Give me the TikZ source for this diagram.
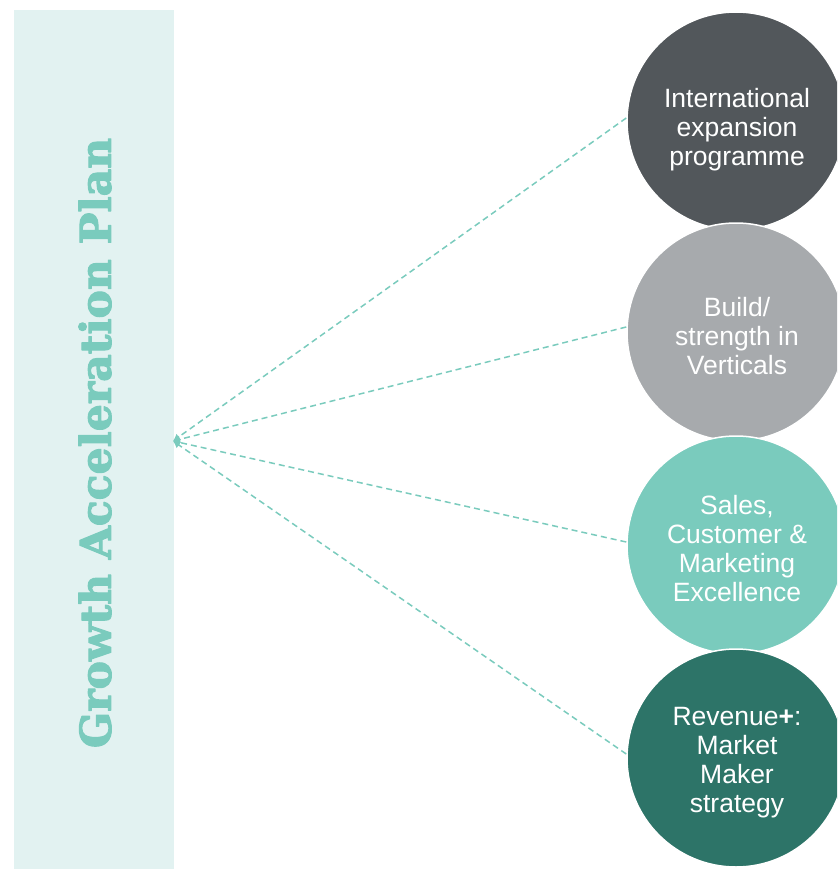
\documentclass[tikz,border=0pt]{standalone}
\usepackage{fontspec}
\setmainfont{Liberation Sans}
\newfontfamily\slabfont[BoldFeatures={FakeBold=2.5}]{DejaVu Serif}
\usetikzlibrary{arrows.meta}
\definecolor{barmint}{HTML}{E2F2F1}
\definecolor{mint}{HTML}{7ACBBD}
\definecolor{slate}{HTML}{52575B}
\definecolor{stone}{HTML}{A7AAAD}
\definecolor{pine}{HTML}{2D7468}
\begin{document}
\begin{tikzpicture}[x=1pt,y=-1pt,line cap=round,line join=round,
  bubble/.style={circle,draw=white,line width=1.5pt,minimum size=218pt,inner sep=0pt},
  caption/.style={text=white,align=center,font=\fontsize{26.5}{29}\selectfont},
  link/.style={draw=mint,line width=1.5pt,line cap=butt,dash pattern=on 6pt off 4pt,
    -{Latex[length=7pt,width=8pt]}}]
  \useasboundingbox (0,0) rectangle (837,869);
  \clip (0,0) rectangle (837,869);
  % side bar
  \fill[barmint] (14,10) rectangle (174,869);
  \node[rotate=90,inner sep=0pt,text=mint,font=\slabfont\bfseries\fontsize{42.5}{42.5}\selectfont]
    (title) at (95,443) {Growth Acceleration Plan};
  \coordinate (hub) at (173,441);
  % circles
  \node[bubble,fill=slate] (c1) at (736,121) {};
  \node[bubble,fill=stone] (c2) at (736,332) {};
  \node[bubble,fill=mint] (c3) at (736,545) {};
  \node[bubble,fill=pine] (c4) at (736,758) {};
  \node[caption] (t1) at (737,130) {International\\expansion\\programme};
  \node[caption] (t2) at (737,336) {Build/\\strength in\\Verticals};
  \node[caption] (t3) at (737,549) {Sales,\\Customer \&\\Marketing\\Excellence};
  \node[caption] (t4) at (737,763) {Revenue\textbf{+}:\\Market\\Maker\\strategy};
  % connectors
  \draw[link] ([yshift=3pt]c1.west) -- (hub);
  \draw[link] ([yshift=5pt]c2.west) -- (hub);
  \draw[link] ([yshift=3pt]c3.west) -- (hub);
  \draw[link] ([yshift=4pt]c4.west) -- (hub);
\end{tikzpicture}
\end{document}
